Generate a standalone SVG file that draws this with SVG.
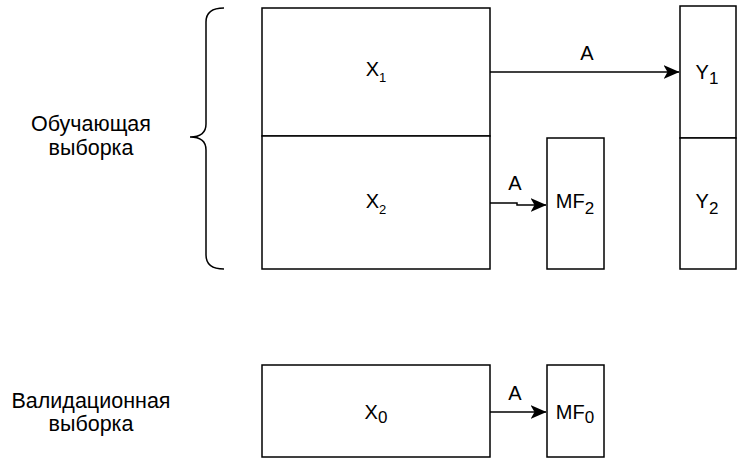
<svg xmlns="http://www.w3.org/2000/svg" width="737" height="458" viewBox="0 0 737 458">
  <style>
    .box { fill: #ffffff; stroke: #000000; stroke-width: 1.5; }
    .edge { fill: none; stroke: #000000; stroke-width: 1.5; }
    text { font-family: "Liberation Sans", Arial, sans-serif; font-size: 20px; fill: #000000; }
    .side { font-size: 21.5px; }
    .c { text-anchor: middle; }
    .sub { font-size: 13px; }
    .sub2 { font-size: 17px; }
  </style>
  <defs>
    <marker id="arrow" viewBox="0 0 16 14" refX="15.5" refY="7" markerWidth="16" markerHeight="14" markerUnits="userSpaceOnUse" orient="auto">
      <path d="M0,0 L16,7 L0,14 L4,7 Z" fill="#000000"/>
    </marker>
  </defs>

  <!-- side labels -->
  <g id="train-label">
    <text class="c side" x="91" y="131">Обучающая</text>
    <text class="c side" x="91" y="155">выборка</text>
    <path class="edge" d="M224,8 Q206,8 206,22 L206,124 Q206,137 190,137 Q206,137 206,150 L206,255 Q206,269 224,269"/>
  </g>
  <g id="valid-label">
    <text class="c side" x="91" y="408">Валидационная</text>
    <text class="c side" x="91" y="431">выборка</text>
  </g>

  <!-- nodes -->
  <g id="x1"><rect class="box" x="262" y="8" width="228" height="128"/>
    <text class="c" x="376" y="76">X<tspan class="sub" dy="6">1</tspan></text></g>
  <g id="x2"><rect class="box" x="262" y="136" width="228" height="133"/>
    <text class="c" x="376" y="208">X<tspan class="sub" dy="6">2</tspan></text></g>
  <g id="y1"><rect class="box" x="680" y="6" width="56" height="132"/>
    <text class="c" x="707" y="79">Y<tspan class="sub2" dy="5">1</tspan></text></g>
  <g id="y2"><rect class="box" x="680" y="138" width="56" height="131"/>
    <text class="c" x="707" y="208">Y<tspan class="sub2" dy="6">2</tspan></text></g>
  <g id="mf2"><rect class="box" x="547" y="138" width="57" height="131"/>
    <text class="c" x="575" y="208">MF<tspan class="sub2" dy="6">2</tspan></text></g>
  <g id="x0"><rect class="box" x="262" y="365" width="228" height="92"/>
    <text class="c" x="376" y="419">X<tspan class="sub2" dy="4">0</tspan></text></g>
  <g id="mf0"><rect class="box" x="547" y="365" width="57" height="92"/>
    <text class="c" x="575" y="419">MF<tspan class="sub2" dy="4">0</tspan></text></g>

  <!-- connectors -->
  <g id="connectors">
    <path class="edge" d="M490,72 L679,72" marker-end="url(#arrow)"/>
    <text class="c" x="587" y="60">A</text>
    <path class="edge" d="M490,203 L517,203 L517,205 L546,205" marker-end="url(#arrow)"/>
    <text class="c" x="515" y="190">A</text>
    <path class="edge" d="M490,412 L546,412" marker-end="url(#arrow)"/>
    <text class="c" x="515" y="400">A</text>
  </g>
</svg>
